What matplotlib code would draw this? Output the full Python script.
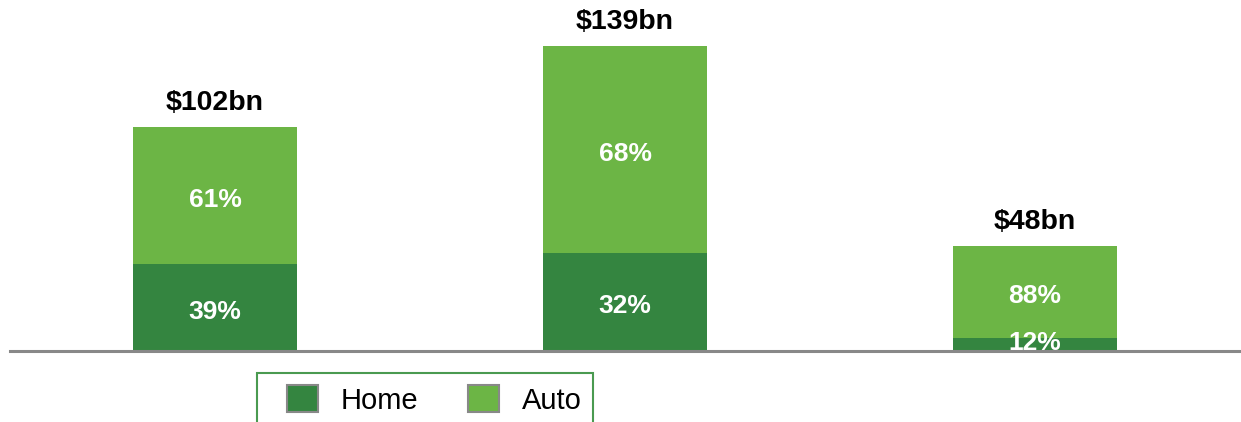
import matplotlib.pyplot as plt
from matplotlib.patches import Rectangle
import numpy as np

plt.rcParams["font.family"] = ["Liberation Sans", "DejaVu Sans"]

# data
groups = ["A", "B", "C"]
totals = [102, 139, 48]            # $bn
home_pct = [39, 32, 12]
auto_pct = [61, 68, 88]
series_names = ["Home", "Auto"]

HOME_C = "#348540"
AUTO_C = "#6cb545"

x = np.arange(len(groups))
tot = np.array(totals, dtype=float)
home = tot * np.array(home_pct) / 100
auto = tot * np.array(auto_pct) / 100

W, H = 1241, 422
fig = plt.figure(figsize=(W / 100, H / 100), dpi=100)
ax = fig.add_axes([10 / W, 71 / H, 1230 / W, 351 / H])

ax.bar(x, home, width=0.4, color=HOME_C, label=series_names[0], zorder=2)
ax.bar(x, auto, width=0.4, bottom=home, color=AUTO_C, label=series_names[1], zorder=2)

lbl = dict(ha="center", va="center", color="white", fontsize=19,
           fontweight="bold", zorder=2.2, textcoords="offset points")
for i in range(len(groups)):
    # thin segments get their label nudged up, as in the original
    dy = 1.5 if home[i] < 10 else -3
    ax.annotate(f"{home_pct[i]}%", (x[i], home[i] / 2), xytext=(0, dy), **lbl)
    ax.annotate(f"{auto_pct[i]}%", (x[i], home[i] + auto[i] / 2), xytext=(0, -3), **lbl)
    ax.text(x[i], tot[i] + 11, f"${totals[i]}bn", ha="center", va="center",
            color="black", fontsize=20.5, fontweight="bold")

ax.set_xlim(-0.5, 2.5)
ax.set_ylim(0, 160)
for s in ["top", "left", "right"]:
    ax.spines[s].set_visible(False)
ax.spines["bottom"].set_color("#888888")
ax.spines["bottom"].set_linewidth(2.2)
ax.spines["bottom"].set_zorder(3)
ax.set_xticks([])
ax.set_yticks([])

# legend box runs off the bottom of the image in the reference
frame = Rectangle((257 / W, -0.1), (593 - 257) / W, 0.1 + (H - 373) / H,
                  transform=fig.transFigure, facecolor="white",
                  edgecolor="#4a9a50", lw=1.5)
fig.patches.append(frame)

handles = [Rectangle((0, 0), 1, 1, facecolor=HOME_C, edgecolor="#888888", lw=1.5),
           Rectangle((0, 0), 1, 1, facecolor=AUTO_C, edgecolor="#888888", lw=1.5)]
leg = fig.legend(handles, series_names, loc="center left",
                 bbox_to_anchor=(287 / W, 1 - 400 / H), ncol=2,
                 fontsize=21, frameon=False,
                 handlelength=1.05, handleheight=1.05, handletextpad=0.8,
                 columnspacing=1.7, borderpad=0, borderaxespad=0)

fig.savefig("out.png", dpi=100)
